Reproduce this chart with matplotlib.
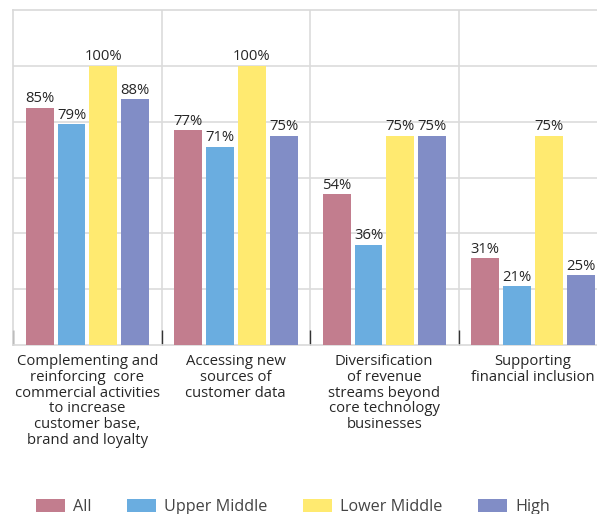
import matplotlib
matplotlib.use("Agg")
import matplotlib.pyplot as plt
import numpy as np

categories = [
    "Complementing and\nreinforcing  core\ncommercial activities\nto increase\ncustomer base,\nbrand and loyalty",
    "Accessing new\nsources of\ncustomer data",
    "Diversification\nof revenue\nstreams beyond\ncore technology\nbusinesses",
    "Supporting\nfinancial inclusion",
]
series = ["All", "Upper Middle", "Lower Middle", "High"]
values = {
    "All": [85, 77, 54, 31],
    "Upper Middle": [79, 71, 36, 21],
    "Lower Middle": [100, 100, 75, 75],
    "High": [88, 75, 75, 25],
}
colors = {"All": "#c27d8e", "Upper Middle": "#6aade0",
          "Lower Middle": "#ffea70", "High": "#818dc6"}

plt.rcParams["font.family"] = ["Open Sans", "DejaVu Sans"]
txt = "#262626"

fig = plt.figure(figsize=(5.97, 5.14), dpi=100)
# axes extends past the right edge, like the cropped reference
ax = fig.add_axes([13 / 597, 1 - 345 / 514, 594 / 597, 335 / 514])

x = np.arange(len(categories))
offsets = [-0.32, -0.106, 0.108, 0.322]
width = 0.188
for s, off in zip(series, offsets):
    bars = ax.bar(x + off, values[s], width, color=colors[s], label=s, zorder=3)
    for b, v in zip(bars, values[s]):
        ax.text(b.get_x() + b.get_width() / 2, v + 0.5, f"{v}%",
                ha="center", va="bottom", fontsize=10.7, color=txt, zorder=4)

ax.set_xlim(-0.5, 3.5)
ax.set_ylim(0, 120)
ax.set_yticks([20, 40, 60, 80, 100])
ax.yaxis.grid(True, color="#dcdcdc", lw=1.2, zorder=0)
for xb in [0.5, 1.5, 2.5]:
    ax.axvline(xb, color="#dcdcdc", lw=1.2, zorder=0)
ax.tick_params(axis="y", length=0, labelleft=False)
ax.set_xticks([-0.5, 0.5, 1.5, 2.5])
ax.tick_params(axis="x", direction="in", length=11, width=1.0,
               color="#333333", labelbottom=False)
for sp in ["left", "top", "bottom"]:
    ax.spines[sp].set_color("#d9d9d9")
    ax.spines[sp].set_linewidth(1.2)
ax.spines["right"].set_visible(False)

for xi, lab in zip(x, categories):
    ax.text(xi, -3.2, lab, ha="center", va="top", fontsize=10.75,
            color=txt, linespacing=1.075, clip_on=False)

handles, labels = ax.get_legend_handles_labels()
fig.legend(handles, labels, loc="center", bbox_to_anchor=(293 / 597, 1 - 507 / 514),
           ncol=4, frameon=False, fontsize=11.6, handlelength=1.8,
           handleheight=0.8, handletextpad=0.5, columnspacing=2.2,
           labelcolor="#444444")

fig.savefig("out.png", dpi=100)
